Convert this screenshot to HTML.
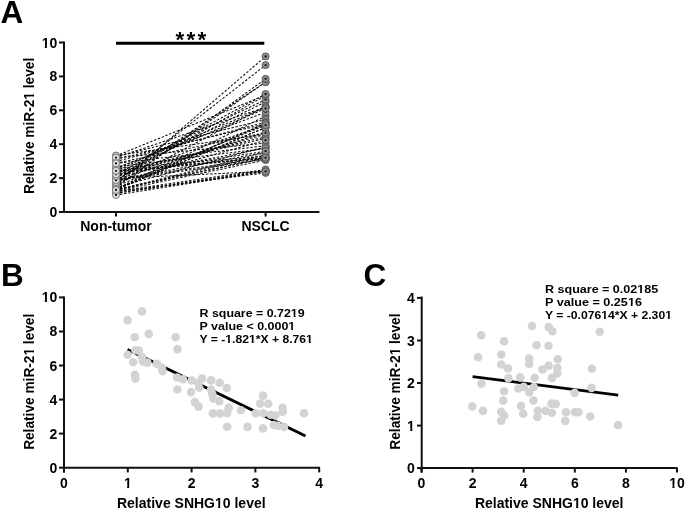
<!DOCTYPE html><html><head><meta charset="utf-8"><style>html,body{margin:0;padding:0;background:#fff;}svg{display:block;will-change:transform;}text{font-family:"Liberation Sans", sans-serif;font-weight:bold;fill:#000;}</style></head><body>
<svg width="685" height="509" viewBox="0 0 685 509">
<rect width="685" height="509" fill="#fff"/>
<text x="0.6" y="22.7" font-size="31.5">A</text>
<text x="1.0" y="285.7" font-size="31.5">B</text>
<text x="363.6" y="285.7" font-size="31.5">C</text>
<g stroke="#0a0a0a" stroke-width="1.05" stroke-dasharray="2.4 1.7" fill="none">
<line x1="116.0" y1="185.2" x2="265.6" y2="56.4"/>
<line x1="116.0" y1="181.9" x2="265.6" y2="65.1"/>
<line x1="116.0" y1="187.5" x2="265.6" y2="78.8"/>
<line x1="116.0" y1="186.5" x2="265.6" y2="82.1"/>
<line x1="116.0" y1="181.4" x2="265.6" y2="82.1"/>
<line x1="116.0" y1="191.7" x2="265.6" y2="172.9"/>
<line x1="116.0" y1="195.0" x2="265.6" y2="171.3"/>
<line x1="116.0" y1="193.2" x2="265.6" y2="171.4"/>
<line x1="116.0" y1="193.3" x2="265.6" y2="170.3"/>
<line x1="116.0" y1="191.5" x2="265.6" y2="169.5"/>
<line x1="116.0" y1="191.1" x2="265.6" y2="160.0"/>
<line x1="116.0" y1="178.4" x2="265.6" y2="171.4"/>
<line x1="116.0" y1="180.4" x2="265.6" y2="159.3"/>
<line x1="116.0" y1="155.5" x2="265.6" y2="134.2"/>
<line x1="116.0" y1="155.9" x2="265.6" y2="95.1"/>
<line x1="116.0" y1="156.5" x2="265.6" y2="119.5"/>
<line x1="116.0" y1="157.6" x2="265.6" y2="107.1"/>
<line x1="116.0" y1="157.8" x2="265.6" y2="143.1"/>
<line x1="116.0" y1="159.2" x2="265.6" y2="124.0"/>
<line x1="116.0" y1="174.6" x2="265.6" y2="94.0"/>
<line x1="116.0" y1="179.8" x2="265.6" y2="95.5"/>
<line x1="116.0" y1="171.3" x2="265.6" y2="99.6"/>
<line x1="116.0" y1="176.3" x2="265.6" y2="101.8"/>
<line x1="116.0" y1="185.1" x2="265.6" y2="106.3"/>
<line x1="116.0" y1="168.7" x2="265.6" y2="107.4"/>
<line x1="116.0" y1="189.6" x2="265.6" y2="158.0"/>
<line x1="116.0" y1="189.8" x2="265.6" y2="158.0"/>
<line x1="116.0" y1="179.3" x2="265.6" y2="157.9"/>
<line x1="116.0" y1="170.8" x2="265.6" y2="157.8"/>
<line x1="116.0" y1="172.4" x2="265.6" y2="157.8"/>
<line x1="116.0" y1="170.6" x2="265.6" y2="157.7"/>
<line x1="116.0" y1="168.4" x2="265.6" y2="156.2"/>
<line x1="116.0" y1="190.0" x2="265.6" y2="154.9"/>
<line x1="116.0" y1="190.4" x2="265.6" y2="152.5"/>
<line x1="116.0" y1="180.1" x2="265.6" y2="152.3"/>
<line x1="116.0" y1="174.4" x2="265.6" y2="151.2"/>
<line x1="116.0" y1="166.8" x2="265.6" y2="148.4"/>
<line x1="116.0" y1="176.2" x2="265.6" y2="148.2"/>
<line x1="116.0" y1="187.3" x2="265.6" y2="146.7"/>
<line x1="116.0" y1="163.4" x2="265.6" y2="145.7"/>
<line x1="116.0" y1="182.1" x2="265.6" y2="140.2"/>
<line x1="116.0" y1="172.5" x2="265.6" y2="138.4"/>
<line x1="116.0" y1="172.2" x2="265.6" y2="136.8"/>
<line x1="116.0" y1="176.0" x2="265.6" y2="134.2"/>
<line x1="116.0" y1="163.1" x2="265.6" y2="132.7"/>
<line x1="116.0" y1="179.7" x2="265.6" y2="132.3"/>
<line x1="116.0" y1="189.8" x2="265.6" y2="127.5"/>
<line x1="116.0" y1="189.3" x2="265.6" y2="127.5"/>
<line x1="116.0" y1="186.4" x2="265.6" y2="125.2"/>
<line x1="116.0" y1="176.1" x2="265.6" y2="125.1"/>
<line x1="116.0" y1="189.8" x2="265.6" y2="123.3"/>
<line x1="116.0" y1="189.3" x2="265.6" y2="123.2"/>
<line x1="116.0" y1="161.5" x2="265.6" y2="122.2"/>
<line x1="116.0" y1="189.2" x2="265.6" y2="116.1"/>
<line x1="116.0" y1="168.0" x2="265.6" y2="112.3"/>
<line x1="116.0" y1="172.8" x2="265.6" y2="108.5"/>
</g>
<circle cx="116.0" cy="157.8" r="3.5" fill="#e2e2e2" stroke="#7a7a7a" stroke-width="1"/>
<circle cx="116.0" cy="157.8" r="1.15" fill="#111"/>
<circle cx="116.0" cy="189.2" r="3.5" fill="#e2e2e2" stroke="#7a7a7a" stroke-width="1"/>
<circle cx="116.0" cy="189.2" r="1.15" fill="#111"/>
<circle cx="116.0" cy="187.3" r="3.5" fill="#e2e2e2" stroke="#7a7a7a" stroke-width="1"/>
<circle cx="116.0" cy="187.3" r="1.15" fill="#111"/>
<circle cx="116.0" cy="190.4" r="3.5" fill="#e2e2e2" stroke="#7a7a7a" stroke-width="1"/>
<circle cx="116.0" cy="190.4" r="1.15" fill="#111"/>
<circle cx="116.0" cy="172.2" r="3.5" fill="#e2e2e2" stroke="#7a7a7a" stroke-width="1"/>
<circle cx="116.0" cy="172.2" r="1.15" fill="#111"/>
<circle cx="116.0" cy="193.3" r="3.5" fill="#e2e2e2" stroke="#7a7a7a" stroke-width="1"/>
<circle cx="116.0" cy="193.3" r="1.15" fill="#111"/>
<circle cx="116.0" cy="186.5" r="3.5" fill="#e2e2e2" stroke="#7a7a7a" stroke-width="1"/>
<circle cx="116.0" cy="186.5" r="1.15" fill="#111"/>
<circle cx="116.0" cy="155.5" r="3.5" fill="#e2e2e2" stroke="#7a7a7a" stroke-width="1"/>
<circle cx="116.0" cy="155.5" r="1.15" fill="#111"/>
<circle cx="116.0" cy="186.4" r="3.5" fill="#e2e2e2" stroke="#7a7a7a" stroke-width="1"/>
<circle cx="116.0" cy="186.4" r="1.15" fill="#111"/>
<circle cx="116.0" cy="179.7" r="3.5" fill="#e2e2e2" stroke="#7a7a7a" stroke-width="1"/>
<circle cx="116.0" cy="179.7" r="1.15" fill="#111"/>
<circle cx="116.0" cy="185.1" r="3.5" fill="#e2e2e2" stroke="#7a7a7a" stroke-width="1"/>
<circle cx="116.0" cy="185.1" r="1.15" fill="#111"/>
<circle cx="116.0" cy="176.3" r="3.5" fill="#e2e2e2" stroke="#7a7a7a" stroke-width="1"/>
<circle cx="116.0" cy="176.3" r="1.15" fill="#111"/>
<circle cx="116.0" cy="156.5" r="3.5" fill="#e2e2e2" stroke="#7a7a7a" stroke-width="1"/>
<circle cx="116.0" cy="156.5" r="1.15" fill="#111"/>
<circle cx="116.0" cy="181.4" r="3.5" fill="#e2e2e2" stroke="#7a7a7a" stroke-width="1"/>
<circle cx="116.0" cy="181.4" r="1.15" fill="#111"/>
<circle cx="116.0" cy="179.8" r="3.5" fill="#e2e2e2" stroke="#7a7a7a" stroke-width="1"/>
<circle cx="116.0" cy="179.8" r="1.15" fill="#111"/>
<circle cx="116.0" cy="168.7" r="3.5" fill="#e2e2e2" stroke="#7a7a7a" stroke-width="1"/>
<circle cx="116.0" cy="168.7" r="1.15" fill="#111"/>
<circle cx="116.0" cy="161.5" r="3.5" fill="#e2e2e2" stroke="#7a7a7a" stroke-width="1"/>
<circle cx="116.0" cy="161.5" r="1.15" fill="#111"/>
<circle cx="116.0" cy="166.8" r="3.5" fill="#e2e2e2" stroke="#7a7a7a" stroke-width="1"/>
<circle cx="116.0" cy="166.8" r="1.15" fill="#111"/>
<circle cx="116.0" cy="159.2" r="3.5" fill="#e2e2e2" stroke="#7a7a7a" stroke-width="1"/>
<circle cx="116.0" cy="159.2" r="1.15" fill="#111"/>
<circle cx="116.0" cy="171.3" r="3.5" fill="#e2e2e2" stroke="#7a7a7a" stroke-width="1"/>
<circle cx="116.0" cy="171.3" r="1.15" fill="#111"/>
<circle cx="116.0" cy="189.8" r="3.5" fill="#e2e2e2" stroke="#7a7a7a" stroke-width="1"/>
<circle cx="116.0" cy="189.8" r="1.15" fill="#111"/>
<circle cx="116.0" cy="155.9" r="3.5" fill="#e2e2e2" stroke="#7a7a7a" stroke-width="1"/>
<circle cx="116.0" cy="155.9" r="1.15" fill="#111"/>
<circle cx="116.0" cy="168.4" r="3.5" fill="#e2e2e2" stroke="#7a7a7a" stroke-width="1"/>
<circle cx="116.0" cy="168.4" r="1.15" fill="#111"/>
<circle cx="116.0" cy="176.0" r="3.5" fill="#e2e2e2" stroke="#7a7a7a" stroke-width="1"/>
<circle cx="116.0" cy="176.0" r="1.15" fill="#111"/>
<circle cx="116.0" cy="193.2" r="3.5" fill="#e2e2e2" stroke="#7a7a7a" stroke-width="1"/>
<circle cx="116.0" cy="193.2" r="1.15" fill="#111"/>
<circle cx="116.0" cy="172.5" r="3.5" fill="#e2e2e2" stroke="#7a7a7a" stroke-width="1"/>
<circle cx="116.0" cy="172.5" r="1.15" fill="#111"/>
<circle cx="116.0" cy="179.3" r="3.5" fill="#e2e2e2" stroke="#7a7a7a" stroke-width="1"/>
<circle cx="116.0" cy="179.3" r="1.15" fill="#111"/>
<circle cx="116.0" cy="181.9" r="3.5" fill="#e2e2e2" stroke="#7a7a7a" stroke-width="1"/>
<circle cx="116.0" cy="181.9" r="1.15" fill="#111"/>
<circle cx="116.0" cy="168.0" r="3.5" fill="#e2e2e2" stroke="#7a7a7a" stroke-width="1"/>
<circle cx="116.0" cy="168.0" r="1.15" fill="#111"/>
<circle cx="116.0" cy="157.6" r="3.5" fill="#e2e2e2" stroke="#7a7a7a" stroke-width="1"/>
<circle cx="116.0" cy="157.6" r="1.15" fill="#111"/>
<circle cx="116.0" cy="189.8" r="3.5" fill="#e2e2e2" stroke="#7a7a7a" stroke-width="1"/>
<circle cx="116.0" cy="189.8" r="1.15" fill="#111"/>
<circle cx="116.0" cy="185.2" r="3.5" fill="#e2e2e2" stroke="#7a7a7a" stroke-width="1"/>
<circle cx="116.0" cy="185.2" r="1.15" fill="#111"/>
<circle cx="116.0" cy="191.1" r="3.5" fill="#e2e2e2" stroke="#7a7a7a" stroke-width="1"/>
<circle cx="116.0" cy="191.1" r="1.15" fill="#111"/>
<circle cx="116.0" cy="163.1" r="3.5" fill="#e2e2e2" stroke="#7a7a7a" stroke-width="1"/>
<circle cx="116.0" cy="163.1" r="1.15" fill="#111"/>
<circle cx="116.0" cy="189.6" r="3.5" fill="#e2e2e2" stroke="#7a7a7a" stroke-width="1"/>
<circle cx="116.0" cy="189.6" r="1.15" fill="#111"/>
<circle cx="116.0" cy="187.5" r="3.5" fill="#e2e2e2" stroke="#7a7a7a" stroke-width="1"/>
<circle cx="116.0" cy="187.5" r="1.15" fill="#111"/>
<circle cx="116.0" cy="180.1" r="3.5" fill="#e2e2e2" stroke="#7a7a7a" stroke-width="1"/>
<circle cx="116.0" cy="180.1" r="1.15" fill="#111"/>
<circle cx="116.0" cy="191.7" r="3.5" fill="#e2e2e2" stroke="#7a7a7a" stroke-width="1"/>
<circle cx="116.0" cy="191.7" r="1.15" fill="#111"/>
<circle cx="116.0" cy="191.5" r="3.5" fill="#e2e2e2" stroke="#7a7a7a" stroke-width="1"/>
<circle cx="116.0" cy="191.5" r="1.15" fill="#111"/>
<circle cx="116.0" cy="174.6" r="3.5" fill="#e2e2e2" stroke="#7a7a7a" stroke-width="1"/>
<circle cx="116.0" cy="174.6" r="1.15" fill="#111"/>
<circle cx="116.0" cy="189.3" r="3.5" fill="#e2e2e2" stroke="#7a7a7a" stroke-width="1"/>
<circle cx="116.0" cy="189.3" r="1.15" fill="#111"/>
<circle cx="116.0" cy="195.0" r="3.5" fill="#e2e2e2" stroke="#7a7a7a" stroke-width="1"/>
<circle cx="116.0" cy="195.0" r="1.15" fill="#111"/>
<circle cx="116.0" cy="189.3" r="3.5" fill="#e2e2e2" stroke="#7a7a7a" stroke-width="1"/>
<circle cx="116.0" cy="189.3" r="1.15" fill="#111"/>
<circle cx="116.0" cy="163.4" r="3.5" fill="#e2e2e2" stroke="#7a7a7a" stroke-width="1"/>
<circle cx="116.0" cy="163.4" r="1.15" fill="#111"/>
<circle cx="116.0" cy="182.1" r="3.5" fill="#e2e2e2" stroke="#7a7a7a" stroke-width="1"/>
<circle cx="116.0" cy="182.1" r="1.15" fill="#111"/>
<circle cx="116.0" cy="170.6" r="3.5" fill="#e2e2e2" stroke="#7a7a7a" stroke-width="1"/>
<circle cx="116.0" cy="170.6" r="1.15" fill="#111"/>
<circle cx="116.0" cy="189.8" r="3.5" fill="#e2e2e2" stroke="#7a7a7a" stroke-width="1"/>
<circle cx="116.0" cy="189.8" r="1.15" fill="#111"/>
<circle cx="116.0" cy="178.4" r="3.5" fill="#e2e2e2" stroke="#7a7a7a" stroke-width="1"/>
<circle cx="116.0" cy="178.4" r="1.15" fill="#111"/>
<circle cx="116.0" cy="180.4" r="3.5" fill="#e2e2e2" stroke="#7a7a7a" stroke-width="1"/>
<circle cx="116.0" cy="180.4" r="1.15" fill="#111"/>
<circle cx="116.0" cy="176.2" r="3.5" fill="#e2e2e2" stroke="#7a7a7a" stroke-width="1"/>
<circle cx="116.0" cy="176.2" r="1.15" fill="#111"/>
<circle cx="116.0" cy="190.0" r="3.5" fill="#e2e2e2" stroke="#7a7a7a" stroke-width="1"/>
<circle cx="116.0" cy="190.0" r="1.15" fill="#111"/>
<circle cx="116.0" cy="172.8" r="3.5" fill="#e2e2e2" stroke="#7a7a7a" stroke-width="1"/>
<circle cx="116.0" cy="172.8" r="1.15" fill="#111"/>
<circle cx="116.0" cy="172.4" r="3.5" fill="#e2e2e2" stroke="#7a7a7a" stroke-width="1"/>
<circle cx="116.0" cy="172.4" r="1.15" fill="#111"/>
<circle cx="116.0" cy="176.1" r="3.5" fill="#e2e2e2" stroke="#7a7a7a" stroke-width="1"/>
<circle cx="116.0" cy="176.1" r="1.15" fill="#111"/>
<circle cx="116.0" cy="174.4" r="3.5" fill="#e2e2e2" stroke="#7a7a7a" stroke-width="1"/>
<circle cx="116.0" cy="174.4" r="1.15" fill="#111"/>
<circle cx="116.0" cy="170.8" r="3.5" fill="#e2e2e2" stroke="#7a7a7a" stroke-width="1"/>
<circle cx="116.0" cy="170.8" r="1.15" fill="#111"/>
<circle cx="265.6" cy="143.1" r="3.5" fill="#8e8e8e" stroke="#585858" stroke-width="1"/>
<circle cx="265.6" cy="143.1" r="1.15" fill="#111"/>
<circle cx="265.6" cy="116.1" r="3.5" fill="#8e8e8e" stroke="#585858" stroke-width="1"/>
<circle cx="265.6" cy="116.1" r="1.15" fill="#111"/>
<circle cx="265.6" cy="146.7" r="3.5" fill="#8e8e8e" stroke="#585858" stroke-width="1"/>
<circle cx="265.6" cy="146.7" r="1.15" fill="#111"/>
<circle cx="265.6" cy="152.5" r="3.5" fill="#8e8e8e" stroke="#585858" stroke-width="1"/>
<circle cx="265.6" cy="152.5" r="1.15" fill="#111"/>
<circle cx="265.6" cy="136.8" r="3.5" fill="#8e8e8e" stroke="#585858" stroke-width="1"/>
<circle cx="265.6" cy="136.8" r="1.15" fill="#111"/>
<circle cx="265.6" cy="170.3" r="3.5" fill="#8e8e8e" stroke="#585858" stroke-width="1"/>
<circle cx="265.6" cy="170.3" r="1.15" fill="#111"/>
<circle cx="265.6" cy="82.1" r="3.5" fill="#8e8e8e" stroke="#585858" stroke-width="1"/>
<circle cx="265.6" cy="82.1" r="1.15" fill="#111"/>
<circle cx="265.6" cy="134.2" r="3.5" fill="#8e8e8e" stroke="#585858" stroke-width="1"/>
<circle cx="265.6" cy="134.2" r="1.15" fill="#111"/>
<circle cx="265.6" cy="125.2" r="3.5" fill="#8e8e8e" stroke="#585858" stroke-width="1"/>
<circle cx="265.6" cy="125.2" r="1.15" fill="#111"/>
<circle cx="265.6" cy="132.3" r="3.5" fill="#8e8e8e" stroke="#585858" stroke-width="1"/>
<circle cx="265.6" cy="132.3" r="1.15" fill="#111"/>
<circle cx="265.6" cy="106.3" r="3.5" fill="#8e8e8e" stroke="#585858" stroke-width="1"/>
<circle cx="265.6" cy="106.3" r="1.15" fill="#111"/>
<circle cx="265.6" cy="101.8" r="3.5" fill="#8e8e8e" stroke="#585858" stroke-width="1"/>
<circle cx="265.6" cy="101.8" r="1.15" fill="#111"/>
<circle cx="265.6" cy="119.5" r="3.5" fill="#8e8e8e" stroke="#585858" stroke-width="1"/>
<circle cx="265.6" cy="119.5" r="1.15" fill="#111"/>
<circle cx="265.6" cy="82.1" r="3.5" fill="#8e8e8e" stroke="#585858" stroke-width="1"/>
<circle cx="265.6" cy="82.1" r="1.15" fill="#111"/>
<circle cx="265.6" cy="95.5" r="3.5" fill="#8e8e8e" stroke="#585858" stroke-width="1"/>
<circle cx="265.6" cy="95.5" r="1.15" fill="#111"/>
<circle cx="265.6" cy="107.4" r="3.5" fill="#8e8e8e" stroke="#585858" stroke-width="1"/>
<circle cx="265.6" cy="107.4" r="1.15" fill="#111"/>
<circle cx="265.6" cy="122.2" r="3.5" fill="#8e8e8e" stroke="#585858" stroke-width="1"/>
<circle cx="265.6" cy="122.2" r="1.15" fill="#111"/>
<circle cx="265.6" cy="148.4" r="3.5" fill="#8e8e8e" stroke="#585858" stroke-width="1"/>
<circle cx="265.6" cy="148.4" r="1.15" fill="#111"/>
<circle cx="265.6" cy="124.0" r="3.5" fill="#8e8e8e" stroke="#585858" stroke-width="1"/>
<circle cx="265.6" cy="124.0" r="1.15" fill="#111"/>
<circle cx="265.6" cy="99.6" r="3.5" fill="#8e8e8e" stroke="#585858" stroke-width="1"/>
<circle cx="265.6" cy="99.6" r="1.15" fill="#111"/>
<circle cx="265.6" cy="127.5" r="3.5" fill="#8e8e8e" stroke="#585858" stroke-width="1"/>
<circle cx="265.6" cy="127.5" r="1.15" fill="#111"/>
<circle cx="265.6" cy="95.1" r="3.5" fill="#8e8e8e" stroke="#585858" stroke-width="1"/>
<circle cx="265.6" cy="95.1" r="1.15" fill="#111"/>
<circle cx="265.6" cy="156.2" r="3.5" fill="#8e8e8e" stroke="#585858" stroke-width="1"/>
<circle cx="265.6" cy="156.2" r="1.15" fill="#111"/>
<circle cx="265.6" cy="134.2" r="3.5" fill="#8e8e8e" stroke="#585858" stroke-width="1"/>
<circle cx="265.6" cy="134.2" r="1.15" fill="#111"/>
<circle cx="265.6" cy="171.4" r="3.5" fill="#8e8e8e" stroke="#585858" stroke-width="1"/>
<circle cx="265.6" cy="171.4" r="1.15" fill="#111"/>
<circle cx="265.6" cy="138.4" r="3.5" fill="#8e8e8e" stroke="#585858" stroke-width="1"/>
<circle cx="265.6" cy="138.4" r="1.15" fill="#111"/>
<circle cx="265.6" cy="157.9" r="3.5" fill="#8e8e8e" stroke="#585858" stroke-width="1"/>
<circle cx="265.6" cy="157.9" r="1.15" fill="#111"/>
<circle cx="265.6" cy="65.1" r="3.5" fill="#8e8e8e" stroke="#585858" stroke-width="1"/>
<circle cx="265.6" cy="65.1" r="1.15" fill="#111"/>
<circle cx="265.6" cy="112.3" r="3.5" fill="#8e8e8e" stroke="#585858" stroke-width="1"/>
<circle cx="265.6" cy="112.3" r="1.15" fill="#111"/>
<circle cx="265.6" cy="107.1" r="3.5" fill="#8e8e8e" stroke="#585858" stroke-width="1"/>
<circle cx="265.6" cy="107.1" r="1.15" fill="#111"/>
<circle cx="265.6" cy="158.0" r="3.5" fill="#8e8e8e" stroke="#585858" stroke-width="1"/>
<circle cx="265.6" cy="158.0" r="1.15" fill="#111"/>
<circle cx="265.6" cy="56.4" r="3.5" fill="#8e8e8e" stroke="#585858" stroke-width="1"/>
<circle cx="265.6" cy="56.4" r="1.15" fill="#111"/>
<circle cx="265.6" cy="160.0" r="3.5" fill="#8e8e8e" stroke="#585858" stroke-width="1"/>
<circle cx="265.6" cy="160.0" r="1.15" fill="#111"/>
<circle cx="265.6" cy="132.7" r="3.5" fill="#8e8e8e" stroke="#585858" stroke-width="1"/>
<circle cx="265.6" cy="132.7" r="1.15" fill="#111"/>
<circle cx="265.6" cy="158.0" r="3.5" fill="#8e8e8e" stroke="#585858" stroke-width="1"/>
<circle cx="265.6" cy="158.0" r="1.15" fill="#111"/>
<circle cx="265.6" cy="78.8" r="3.5" fill="#8e8e8e" stroke="#585858" stroke-width="1"/>
<circle cx="265.6" cy="78.8" r="1.15" fill="#111"/>
<circle cx="265.6" cy="152.3" r="3.5" fill="#8e8e8e" stroke="#585858" stroke-width="1"/>
<circle cx="265.6" cy="152.3" r="1.15" fill="#111"/>
<circle cx="265.6" cy="172.9" r="3.5" fill="#8e8e8e" stroke="#585858" stroke-width="1"/>
<circle cx="265.6" cy="172.9" r="1.15" fill="#111"/>
<circle cx="265.6" cy="169.5" r="3.5" fill="#8e8e8e" stroke="#585858" stroke-width="1"/>
<circle cx="265.6" cy="169.5" r="1.15" fill="#111"/>
<circle cx="265.6" cy="94.0" r="3.5" fill="#8e8e8e" stroke="#585858" stroke-width="1"/>
<circle cx="265.6" cy="94.0" r="1.15" fill="#111"/>
<circle cx="265.6" cy="123.2" r="3.5" fill="#8e8e8e" stroke="#585858" stroke-width="1"/>
<circle cx="265.6" cy="123.2" r="1.15" fill="#111"/>
<circle cx="265.6" cy="171.3" r="3.5" fill="#8e8e8e" stroke="#585858" stroke-width="1"/>
<circle cx="265.6" cy="171.3" r="1.15" fill="#111"/>
<circle cx="265.6" cy="127.5" r="3.5" fill="#8e8e8e" stroke="#585858" stroke-width="1"/>
<circle cx="265.6" cy="127.5" r="1.15" fill="#111"/>
<circle cx="265.6" cy="145.7" r="3.5" fill="#8e8e8e" stroke="#585858" stroke-width="1"/>
<circle cx="265.6" cy="145.7" r="1.15" fill="#111"/>
<circle cx="265.6" cy="140.2" r="3.5" fill="#8e8e8e" stroke="#585858" stroke-width="1"/>
<circle cx="265.6" cy="140.2" r="1.15" fill="#111"/>
<circle cx="265.6" cy="157.7" r="3.5" fill="#8e8e8e" stroke="#585858" stroke-width="1"/>
<circle cx="265.6" cy="157.7" r="1.15" fill="#111"/>
<circle cx="265.6" cy="123.3" r="3.5" fill="#8e8e8e" stroke="#585858" stroke-width="1"/>
<circle cx="265.6" cy="123.3" r="1.15" fill="#111"/>
<circle cx="265.6" cy="171.4" r="3.5" fill="#8e8e8e" stroke="#585858" stroke-width="1"/>
<circle cx="265.6" cy="171.4" r="1.15" fill="#111"/>
<circle cx="265.6" cy="159.3" r="3.5" fill="#8e8e8e" stroke="#585858" stroke-width="1"/>
<circle cx="265.6" cy="159.3" r="1.15" fill="#111"/>
<circle cx="265.6" cy="148.2" r="3.5" fill="#8e8e8e" stroke="#585858" stroke-width="1"/>
<circle cx="265.6" cy="148.2" r="1.15" fill="#111"/>
<circle cx="265.6" cy="154.9" r="3.5" fill="#8e8e8e" stroke="#585858" stroke-width="1"/>
<circle cx="265.6" cy="154.9" r="1.15" fill="#111"/>
<circle cx="265.6" cy="108.5" r="3.5" fill="#8e8e8e" stroke="#585858" stroke-width="1"/>
<circle cx="265.6" cy="108.5" r="1.15" fill="#111"/>
<circle cx="265.6" cy="157.8" r="3.5" fill="#8e8e8e" stroke="#585858" stroke-width="1"/>
<circle cx="265.6" cy="157.8" r="1.15" fill="#111"/>
<circle cx="265.6" cy="125.1" r="3.5" fill="#8e8e8e" stroke="#585858" stroke-width="1"/>
<circle cx="265.6" cy="125.1" r="1.15" fill="#111"/>
<circle cx="265.6" cy="151.2" r="3.5" fill="#8e8e8e" stroke="#585858" stroke-width="1"/>
<circle cx="265.6" cy="151.2" r="1.15" fill="#111"/>
<circle cx="265.6" cy="157.8" r="3.5" fill="#8e8e8e" stroke="#585858" stroke-width="1"/>
<circle cx="265.6" cy="157.8" r="1.15" fill="#111"/>
<g stroke="#111" stroke-width="2" fill="none">
<line x1="64" y1="41.5" x2="64" y2="213"/>
<line x1="63" y1="212" x2="319.5" y2="212"/>
<line x1="59" y1="212.0" x2="64" y2="212.0"/>
<line x1="59" y1="178.1" x2="64" y2="178.1"/>
<line x1="59" y1="144.2" x2="64" y2="144.2"/>
<line x1="59" y1="110.3" x2="64" y2="110.3"/>
<line x1="59" y1="76.4" x2="64" y2="76.4"/>
<line x1="59" y1="42.5" x2="64" y2="42.5"/>
<line x1="116" y1="212" x2="116" y2="216.6"/>
<line x1="265.6" y1="212" x2="265.6" y2="216.6"/>
</g>
<text x="49.41" y="217.00" font-size="14">0</text>
<text x="49.41" y="183.10" font-size="14">2</text>
<text x="49.41" y="149.20" font-size="14">4</text>
<text x="49.41" y="115.30" font-size="14">6</text>
<text x="49.41" y="81.40" font-size="14">8</text>
<text x="41.63" y="47.50" font-size="14">10</text>
<rect x="41.90" y="45.31" width="2.94" height="3.69" fill="#fff"/>
<rect x="46.87" y="45.31" width="2.82" height="3.69" fill="#fff"/>
<text x="116" y="231.3" font-size="14" text-anchor="middle">Non-tumor</text>
<text x="265.5" y="231.3" font-size="14" text-anchor="middle">NSCLC</text>
<text transform="translate(33.5,125.9) rotate(-90) scale(0.884,1)" font-size="15.5" text-anchor="middle">Relative miR-21 level</text><g transform="translate(33.5,125.9) rotate(-90) scale(0.884,1)"><rect x="29.96" y="-2.42" width="3.25" height="3.92" fill="#fff"/><rect x="35.46" y="-2.42" width="3.13" height="3.92" fill="#fff"/></g>
<line x1="116" y1="43.2" x2="264.3" y2="43.2" stroke="#000" stroke-width="3"/>
<text x="175.4" y="47.2" font-size="22.5">*</text>
<text x="186.5" y="47.2" font-size="22.5">*</text>
<text x="197.6" y="47.2" font-size="22.5">*</text>
<line x1="127.5" y1="349.4" x2="305.5" y2="435.9" stroke="#000" stroke-width="2.8"/>
<circle cx="141.9" cy="311.4" r="4.3" fill="#d3d3d3"/>
<circle cx="127.6" cy="320.1" r="4.3" fill="#d3d3d3"/>
<circle cx="134.8" cy="337.2" r="4.3" fill="#d3d3d3"/>
<circle cx="148.8" cy="333.9" r="4.3" fill="#d3d3d3"/>
<circle cx="175.6" cy="337.2" r="4.3" fill="#d3d3d3"/>
<circle cx="177.4" cy="349.1" r="4.3" fill="#d3d3d3"/>
<circle cx="127.6" cy="354.8" r="4.3" fill="#d3d3d3"/>
<circle cx="135.5" cy="350.2" r="4.3" fill="#d3d3d3"/>
<circle cx="138.9" cy="350.6" r="4.3" fill="#d3d3d3"/>
<circle cx="142.0" cy="357.0" r="4.3" fill="#d3d3d3"/>
<circle cx="133.1" cy="362.3" r="4.3" fill="#d3d3d3"/>
<circle cx="143.0" cy="361.5" r="4.3" fill="#d3d3d3"/>
<circle cx="147.4" cy="362.6" r="4.3" fill="#d3d3d3"/>
<circle cx="156.7" cy="363.7" r="4.3" fill="#d3d3d3"/>
<circle cx="161.8" cy="367.5" r="4.3" fill="#d3d3d3"/>
<circle cx="162.7" cy="371.3" r="4.3" fill="#d3d3d3"/>
<circle cx="135.0" cy="374.8" r="4.3" fill="#d3d3d3"/>
<circle cx="135.4" cy="378.6" r="4.3" fill="#d3d3d3"/>
<circle cx="177.2" cy="377.5" r="4.3" fill="#d3d3d3"/>
<circle cx="182.9" cy="379.3" r="4.3" fill="#d3d3d3"/>
<circle cx="191.6" cy="380.5" r="4.3" fill="#d3d3d3"/>
<circle cx="198.3" cy="382.8" r="4.3" fill="#d3d3d3"/>
<circle cx="199.2" cy="387.6" r="4.3" fill="#d3d3d3"/>
<circle cx="202.0" cy="378.5" r="4.3" fill="#d3d3d3"/>
<circle cx="211.1" cy="380.4" r="4.3" fill="#d3d3d3"/>
<circle cx="219.6" cy="382.8" r="4.3" fill="#d3d3d3"/>
<circle cx="226.8" cy="388.0" r="4.3" fill="#d3d3d3"/>
<circle cx="177.4" cy="389.5" r="4.3" fill="#d3d3d3"/>
<circle cx="191.0" cy="392.1" r="4.3" fill="#d3d3d3"/>
<circle cx="211.1" cy="389.5" r="4.3" fill="#d3d3d3"/>
<circle cx="212.2" cy="393.8" r="4.3" fill="#d3d3d3"/>
<circle cx="213.3" cy="398.5" r="4.3" fill="#d3d3d3"/>
<circle cx="219.3" cy="401.1" r="4.3" fill="#d3d3d3"/>
<circle cx="194.8" cy="402.1" r="4.3" fill="#d3d3d3"/>
<circle cx="198.6" cy="406.6" r="4.3" fill="#d3d3d3"/>
<circle cx="228.7" cy="407.9" r="4.3" fill="#d3d3d3"/>
<circle cx="213.0" cy="413.4" r="4.3" fill="#d3d3d3"/>
<circle cx="220.0" cy="413.4" r="4.3" fill="#d3d3d3"/>
<circle cx="227.1" cy="413.1" r="4.3" fill="#d3d3d3"/>
<circle cx="240.9" cy="410.3" r="4.3" fill="#d3d3d3"/>
<circle cx="255.7" cy="413.3" r="4.3" fill="#d3d3d3"/>
<circle cx="263.1" cy="395.6" r="4.3" fill="#d3d3d3"/>
<circle cx="260.2" cy="403.6" r="4.3" fill="#d3d3d3"/>
<circle cx="268.2" cy="403.8" r="4.3" fill="#d3d3d3"/>
<circle cx="263.2" cy="413.2" r="4.3" fill="#d3d3d3"/>
<circle cx="270.6" cy="414.8" r="4.3" fill="#d3d3d3"/>
<circle cx="275.3" cy="415.5" r="4.3" fill="#d3d3d3"/>
<circle cx="282.7" cy="407.7" r="4.3" fill="#d3d3d3"/>
<circle cx="282.7" cy="411.6" r="4.3" fill="#d3d3d3"/>
<circle cx="304.1" cy="413.2" r="4.3" fill="#d3d3d3"/>
<circle cx="227.1" cy="426.8" r="4.3" fill="#d3d3d3"/>
<circle cx="247.5" cy="426.9" r="4.3" fill="#d3d3d3"/>
<circle cx="263.0" cy="428.4" r="4.3" fill="#d3d3d3"/>
<circle cx="273.8" cy="425.0" r="4.3" fill="#d3d3d3"/>
<circle cx="277.7" cy="425.8" r="4.3" fill="#d3d3d3"/>
<circle cx="284.0" cy="426.9" r="4.3" fill="#d3d3d3"/>
<g stroke="#111" stroke-width="2" fill="none">
<line x1="64" y1="296.5" x2="64" y2="472.5"/>
<line x1="63" y1="467.7" x2="320" y2="467.7"/>
<line x1="59" y1="467.7" x2="64" y2="467.7"/>
<line x1="59" y1="433.6" x2="64" y2="433.6"/>
<line x1="59" y1="399.6" x2="64" y2="399.6"/>
<line x1="59" y1="365.5" x2="64" y2="365.5"/>
<line x1="59" y1="331.5" x2="64" y2="331.5"/>
<line x1="59" y1="297.4" x2="64" y2="297.4"/>
<line x1="64.0" y1="467.7" x2="64.0" y2="472.4"/>
<line x1="127.8" y1="467.7" x2="127.8" y2="472.4"/>
<line x1="191.6" y1="467.7" x2="191.6" y2="472.4"/>
<line x1="255.4" y1="467.7" x2="255.4" y2="472.4"/>
<line x1="319.2" y1="467.7" x2="319.2" y2="472.4"/>
</g>
<text x="49.41" y="472.70" font-size="14">0</text>
<text x="49.41" y="438.64" font-size="14">2</text>
<text x="49.41" y="404.58" font-size="14">4</text>
<text x="49.41" y="370.52" font-size="14">6</text>
<text x="49.41" y="336.46" font-size="14">8</text>
<text x="41.63" y="302.40" font-size="14">10</text>
<rect x="41.90" y="300.21" width="2.94" height="3.69" fill="#fff"/>
<rect x="46.87" y="300.21" width="2.82" height="3.69" fill="#fff"/>
<text x="60.11" y="487.60" font-size="14">0</text>
<text x="123.91" y="487.60" font-size="14">1</text>
<rect x="124.18" y="485.41" width="2.94" height="3.69" fill="#fff"/>
<rect x="129.15" y="485.41" width="2.82" height="3.69" fill="#fff"/>
<text x="187.71" y="487.60" font-size="14">2</text>
<text x="251.51" y="487.60" font-size="14">3</text>
<text x="315.31" y="487.60" font-size="14">4</text>
<text x="191.3" y="508" font-size="14" text-anchor="middle">Relative SNHG10 level</text><g><rect x="215.28" y="505.81" width="2.94" height="3.69" fill="#fff"/><rect x="220.25" y="505.81" width="2.82" height="3.69" fill="#fff"/></g>
<text transform="translate(33.5,381.8) rotate(-90) scale(0.884,1)" font-size="15.5" text-anchor="middle">Relative miR-21 level</text><g transform="translate(33.5,381.8) rotate(-90) scale(0.884,1)"><rect x="29.96" y="-2.42" width="3.25" height="3.92" fill="#fff"/><rect x="35.46" y="-2.42" width="3.13" height="3.92" fill="#fff"/></g>
<text transform="translate(199.5,316.5) scale(1.089,1)" font-size="11.4">R square = 0.7219</text><g transform="translate(199.5,316.5) scale(1.089,1)"><rect x="84.10" y="-1.78" width="2.39" height="3.28" fill="#fff"/><rect x="88.14" y="-1.78" width="2.30" height="3.28" fill="#fff"/></g>
<text transform="translate(199.5,329.9) scale(1.095,1)" font-size="11.4">P value &lt; 0.0001</text><g transform="translate(199.5,329.9) scale(1.095,1)"><rect x="81.34" y="-1.78" width="2.39" height="3.28" fill="#fff"/><rect x="85.39" y="-1.78" width="2.30" height="3.28" fill="#fff"/></g>
<text transform="translate(199.5,343.3) scale(1.068,1)" font-size="11.4">Y = -1.821*X + 8.761</text><g transform="translate(199.5,343.3) scale(1.068,1)"><rect x="24.37" y="-1.78" width="2.39" height="3.28" fill="#fff"/><rect x="28.42" y="-1.78" width="2.30" height="3.28" fill="#fff"/><rect x="46.54" y="-1.78" width="2.39" height="3.28" fill="#fff"/><rect x="50.59" y="-1.78" width="2.30" height="3.28" fill="#fff"/><rect x="100.04" y="-1.78" width="2.39" height="3.28" fill="#fff"/><rect x="104.09" y="-1.78" width="2.30" height="3.28" fill="#fff"/></g>
<line x1="472.6" y1="376.7" x2="618.2" y2="395.2" stroke="#000" stroke-width="2.8"/>
<circle cx="481.2" cy="335.2" r="4.3" fill="#d3d3d3"/>
<circle cx="504.1" cy="341.2" r="4.3" fill="#d3d3d3"/>
<circle cx="532.0" cy="326.0" r="4.3" fill="#d3d3d3"/>
<circle cx="548.7" cy="327.1" r="4.3" fill="#d3d3d3"/>
<circle cx="552.4" cy="331.3" r="4.3" fill="#d3d3d3"/>
<circle cx="536.6" cy="345.2" r="4.3" fill="#d3d3d3"/>
<circle cx="548.5" cy="345.8" r="4.3" fill="#d3d3d3"/>
<circle cx="478.1" cy="357.3" r="4.3" fill="#d3d3d3"/>
<circle cx="501.3" cy="354.5" r="4.3" fill="#d3d3d3"/>
<circle cx="529.2" cy="358.5" r="4.3" fill="#d3d3d3"/>
<circle cx="529.2" cy="364.0" r="4.3" fill="#d3d3d3"/>
<circle cx="557.8" cy="359.3" r="4.3" fill="#d3d3d3"/>
<circle cx="501.2" cy="364.5" r="4.3" fill="#d3d3d3"/>
<circle cx="508.0" cy="368.5" r="4.3" fill="#d3d3d3"/>
<circle cx="542.5" cy="369.5" r="4.3" fill="#d3d3d3"/>
<circle cx="548.7" cy="365.6" r="4.3" fill="#d3d3d3"/>
<circle cx="557.3" cy="368.0" r="4.3" fill="#d3d3d3"/>
<circle cx="557.3" cy="373.5" r="4.3" fill="#d3d3d3"/>
<circle cx="508.4" cy="378.2" r="4.3" fill="#d3d3d3"/>
<circle cx="520.2" cy="377.4" r="4.3" fill="#d3d3d3"/>
<circle cx="534.7" cy="377.7" r="4.3" fill="#d3d3d3"/>
<circle cx="551.9" cy="377.9" r="4.3" fill="#d3d3d3"/>
<circle cx="481.4" cy="383.6" r="4.3" fill="#d3d3d3"/>
<circle cx="518.2" cy="388.5" r="4.3" fill="#d3d3d3"/>
<circle cx="523.7" cy="386.9" r="4.3" fill="#d3d3d3"/>
<circle cx="533.8" cy="387.0" r="4.3" fill="#d3d3d3"/>
<circle cx="529.2" cy="392.3" r="4.3" fill="#d3d3d3"/>
<circle cx="504.1" cy="391.2" r="4.3" fill="#d3d3d3"/>
<circle cx="503.2" cy="400.6" r="4.3" fill="#d3d3d3"/>
<circle cx="533.5" cy="400.5" r="4.3" fill="#d3d3d3"/>
<circle cx="551.5" cy="403.6" r="4.3" fill="#d3d3d3"/>
<circle cx="555.7" cy="403.9" r="4.3" fill="#d3d3d3"/>
<circle cx="472.3" cy="406.4" r="4.3" fill="#d3d3d3"/>
<circle cx="482.9" cy="410.9" r="4.3" fill="#d3d3d3"/>
<circle cx="501.2" cy="411.8" r="4.3" fill="#d3d3d3"/>
<circle cx="504.3" cy="415.5" r="4.3" fill="#d3d3d3"/>
<circle cx="501.2" cy="420.8" r="4.3" fill="#d3d3d3"/>
<circle cx="521.0" cy="405.9" r="4.3" fill="#d3d3d3"/>
<circle cx="523.2" cy="413.8" r="4.3" fill="#d3d3d3"/>
<circle cx="537.8" cy="410.7" r="4.3" fill="#d3d3d3"/>
<circle cx="537.4" cy="417.0" r="4.3" fill="#d3d3d3"/>
<circle cx="545.6" cy="410.9" r="4.3" fill="#d3d3d3"/>
<circle cx="551.9" cy="412.7" r="4.3" fill="#d3d3d3"/>
<circle cx="566.0" cy="412.2" r="4.3" fill="#d3d3d3"/>
<circle cx="565.2" cy="420.9" r="4.3" fill="#d3d3d3"/>
<circle cx="574.9" cy="412.2" r="4.3" fill="#d3d3d3"/>
<circle cx="578.5" cy="412.2" r="4.3" fill="#d3d3d3"/>
<circle cx="590.3" cy="416.5" r="4.3" fill="#d3d3d3"/>
<circle cx="618.1" cy="425.3" r="4.3" fill="#d3d3d3"/>
<circle cx="599.7" cy="331.8" r="4.3" fill="#d3d3d3"/>
<circle cx="591.9" cy="368.7" r="4.3" fill="#d3d3d3"/>
<circle cx="591.6" cy="387.9" r="4.3" fill="#d3d3d3"/>
<circle cx="574.6" cy="392.9" r="4.3" fill="#d3d3d3"/>
<g stroke="#111" stroke-width="2" fill="none">
<line x1="421.7" y1="296.5" x2="421.7" y2="472.5"/>
<line x1="420.7" y1="468.1" x2="677.5" y2="468.1"/>
<line x1="417" y1="468.1" x2="421.7" y2="468.1"/>
<line x1="417" y1="425.6" x2="421.7" y2="425.6"/>
<line x1="417" y1="383.0" x2="421.7" y2="383.0"/>
<line x1="417" y1="340.5" x2="421.7" y2="340.5"/>
<line x1="417" y1="297.9" x2="421.7" y2="297.9"/>
<line x1="421.5" y1="468" x2="421.5" y2="472.6"/>
<line x1="472.6" y1="468" x2="472.6" y2="472.6"/>
<line x1="523.7" y1="468" x2="523.7" y2="472.6"/>
<line x1="574.8" y1="468" x2="574.8" y2="472.6"/>
<line x1="625.9" y1="468" x2="625.9" y2="472.6"/>
<line x1="677.0" y1="468" x2="677.0" y2="472.6"/>
</g>
<text x="407.11" y="473.20" font-size="14">0</text>
<text x="407.11" y="430.66" font-size="14">1</text>
<rect x="407.39" y="428.47" width="2.94" height="3.69" fill="#fff"/>
<rect x="412.36" y="428.47" width="2.82" height="3.69" fill="#fff"/>
<text x="407.11" y="388.12" font-size="14">2</text>
<text x="407.11" y="345.58" font-size="14">3</text>
<text x="407.11" y="303.04" font-size="14">4</text>
<text x="417.61" y="487.60" font-size="14">0</text>
<text x="468.71" y="487.60" font-size="14">2</text>
<text x="519.81" y="487.60" font-size="14">4</text>
<text x="570.91" y="487.60" font-size="14">6</text>
<text x="622.01" y="487.60" font-size="14">8</text>
<text x="669.21" y="487.60" font-size="14">10</text>
<rect x="669.49" y="485.41" width="2.94" height="3.69" fill="#fff"/>
<rect x="674.46" y="485.41" width="2.82" height="3.69" fill="#fff"/>
<text x="549.2" y="508" font-size="14" text-anchor="middle">Relative SNHG10 level</text><g><rect x="573.18" y="505.81" width="2.94" height="3.69" fill="#fff"/><rect x="578.15" y="505.81" width="2.82" height="3.69" fill="#fff"/></g>
<text transform="translate(399.5,381.6) rotate(-90) scale(0.884,1)" font-size="15.5" text-anchor="middle">Relative miR-21 level</text><g transform="translate(399.5,381.6) rotate(-90) scale(0.884,1)"><rect x="29.96" y="-2.42" width="3.25" height="3.92" fill="#fff"/><rect x="35.46" y="-2.42" width="3.13" height="3.92" fill="#fff"/></g>
<text transform="translate(545.0,292.5) scale(1.100,1)" font-size="11.4">R square = 0.02185</text><g transform="translate(545.0,292.5) scale(1.100,1)"><rect x="84.07" y="-1.78" width="2.39" height="3.28" fill="#fff"/><rect x="88.12" y="-1.78" width="2.30" height="3.28" fill="#fff"/></g>
<text transform="translate(545.0,305.9) scale(1.108,1)" font-size="11.4">P value = 0.2516</text><g transform="translate(545.0,305.9) scale(1.108,1)"><rect x="75.02" y="-1.78" width="2.39" height="3.28" fill="#fff"/><rect x="79.06" y="-1.78" width="2.30" height="3.28" fill="#fff"/></g>
<text transform="translate(545.0,319.3) scale(1.068,1)" font-size="11.4">Y = -0.07614*X + 2.301</text><g transform="translate(545.0,319.3) scale(1.068,1)"><rect x="52.87" y="-1.78" width="2.39" height="3.28" fill="#fff"/><rect x="56.92" y="-1.78" width="2.30" height="3.28" fill="#fff"/><rect x="112.71" y="-1.78" width="2.39" height="3.28" fill="#fff"/><rect x="116.76" y="-1.78" width="2.30" height="3.28" fill="#fff"/></g>
</svg></body></html>
